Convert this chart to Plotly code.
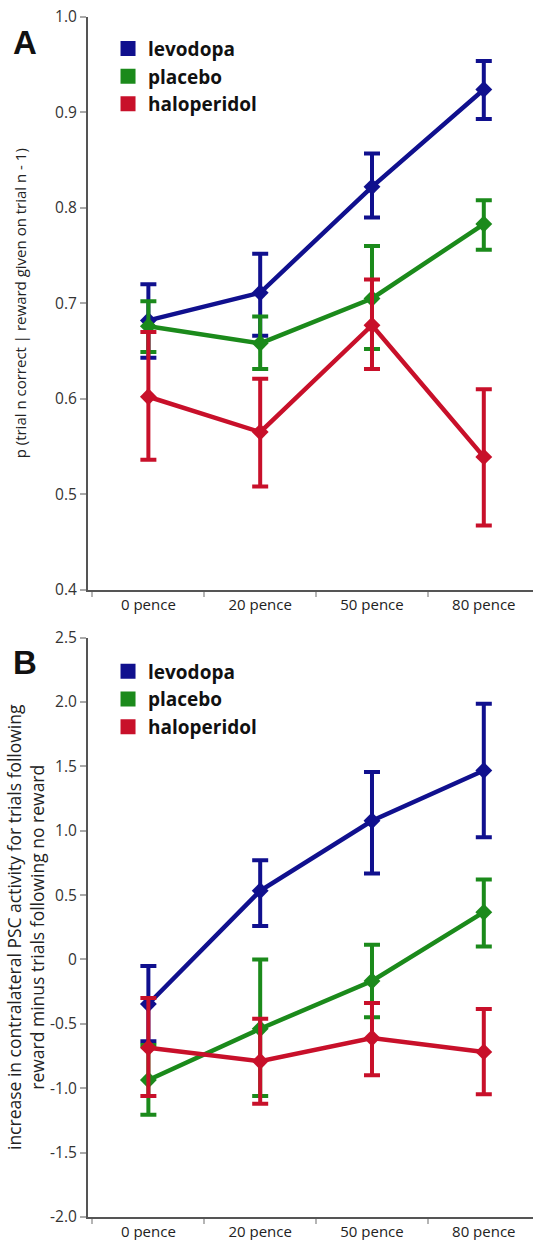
import plotly.graph_objects as go

categories = ["0 pence", "20 pence", "50 pence", "80 pence"]
series_names = ["levodopa", "placebo", "haloperidol"]
colors = ["#10108E", "#1B8A1B", "#C8102A"]

# Panel A: p(trial n correct | reward given on trial n-1)
a_levodopa = [0.682, 0.711, 0.822, 0.924]
a_levodopa_hi = [0.720, 0.752, 0.857, 0.954]
a_levodopa_lo = [0.643, 0.666, 0.790, 0.893]
a_placebo = [0.676, 0.658, 0.705, 0.783]
a_placebo_hi = [0.702, 0.686, 0.760, 0.808]
a_placebo_lo = [0.649, 0.631, 0.652, 0.756]
a_haloperidol = [0.602, 0.565, 0.677, 0.539]
a_haloperidol_hi = [0.670, 0.621, 0.725, 0.610]
a_haloperidol_lo = [0.536, 0.508, 0.631, 0.467]

# Panel B: increase in contralateral PSC activity
b_levodopa = [-0.346, 0.533, 1.077, 1.467]
b_levodopa_hi = [-0.05, 0.77, 1.456, 1.985]
b_levodopa_lo = [-0.636, 0.26, 0.667, 0.949]
b_placebo = [-0.936, -0.538, -0.167, 0.367]
b_placebo_hi = [-0.665, 0.0, 0.115, 0.62]
b_placebo_lo = [-1.205, -1.06, -0.449, 0.10]
b_haloperidol = [-0.685, -0.79, -0.61, -0.718]
b_haloperidol_hi = [-0.30, -0.46, -0.338, -0.385]
b_haloperidol_lo = [-1.06, -1.12, -0.90, -1.046]

a_ticks = [0.4, 0.5, 0.6, 0.7, 0.8, 0.9, 1.0]
a_ticktext = ["0.4", "0.5", "0.6", "0.7", "0.8", "0.9", "1.0"]
b_ticks = [-2.0, -1.5, -1.0, -0.5, 0, 0.5, 1.0, 1.5, 2.0, 2.5]
b_ticktext = ["-2.0", "-1.5", "-1.0", "-0.5", "0", "0.5", "1.0", "1.5", "2.0", "2.5"]

a_title = "p (trial n correct | reward given on trial n - 1)"
b_title = "increase in contralateral PSC activity for trials following<br>reward minus trials following no reward"

FONT = "Open Sans"
fig = go.Figure()

panels = [
    ("x", "y", "legend",
     [(a_levodopa, a_levodopa_hi, a_levodopa_lo),
      (a_placebo, a_placebo_hi, a_placebo_lo),
      (a_haloperidol, a_haloperidol_hi, a_haloperidol_lo)]),
    ("x2", "y2", "legend2",
     [(b_levodopa, b_levodopa_hi, b_levodopa_lo),
      (b_placebo, b_placebo_hi, b_placebo_lo),
      (b_haloperidol, b_haloperidol_hi, b_haloperidol_lo)]),
]

for xa, ya, leg, data in panels:
    for name, color, (vals, hi, lo) in zip(series_names, colors, data):
        fig.add_trace(go.Scatter(
            x=categories, y=vals, xaxis=xa, yaxis=ya,
            mode="lines+markers", showlegend=False,
            line=dict(color=color, width=4.5),
            marker=dict(symbol="diamond", size=13, color=color),
            error_y=dict(type="data", symmetric=False,
                         array=[h - v for h, v in zip(hi, vals)],
                         arrayminus=[v - l for v, l in zip(vals, lo)],
                         color=color, thickness=4, width=8),
        ))
    for name, color in zip(series_names, colors):
        fig.add_trace(go.Scatter(
            x=[None], y=[None], xaxis=xa, yaxis=ya, mode="markers",
            name=name, legend=leg,
            marker=dict(symbol="square", size=15, color=color),
        ))

xcommon = dict(type="category", categoryorder="array", categoryarray=categories,
               range=[-0.54, 3.44], tickson="boundaries", ticks="outside",
               ticklen=5, tickwidth=1.5, tickcolor="#b5b5b5",
               showline=True, linecolor="#555555", linewidth=2,
               showgrid=False, zeroline=False, automargin=False,
               tickfont=dict(family=FONT, size=15, color="#222222"))
ycommon = dict(ticks="outside", ticklen=6, tickwidth=1.5, tickcolor="#aaaaaa",
               showline=True, linecolor="#555555", linewidth=2,
               showgrid=False, zeroline=False, automargin=False,
               tickfont=dict(family=FONT, size=15.5, color="#333333"))

legend_common = dict(font=dict(family=FONT, size=19, color="#111111", weight=700),
                     bgcolor="rgba(0,0,0,0)", itemwidth=30, tracegroupgap=0,
                     xanchor="left", yanchor="top")

fig.update_layout(
    width=533, height=1240,
    margin=dict(l=88, r=0, t=17, b=23, autoexpand=False),
    plot_bgcolor="white", paper_bgcolor="white",
    xaxis=dict(domain=[0, 1], anchor="y", **xcommon),
    yaxis=dict(domain=[0.5229, 1], anchor="x", range=[0.4, 1.0],
               tickvals=a_ticks, ticktext=a_ticktext,
               title=dict(text=a_title, font=dict(family=FONT, size=15, color="#222222"), standoff=25),
               **ycommon),
    xaxis2=dict(domain=[0, 1], anchor="y2", **xcommon),
    yaxis2=dict(domain=[0, 0.4829], anchor="x2", range=[-2.0, 2.5],
                tickvals=b_ticks, ticktext=b_ticktext,
                title=dict(text=b_title, font=dict(family=FONT, size=17.5, color="#222222"), standoff=1),
                **ycommon),
    legend=dict(x=0.045, y=0.9895, **legend_common),
    legend2=dict(x=0.045, y=0.4705, **legend_common),
    annotations=[
        dict(text="<b>A</b>", xref="paper", yref="paper", x=-0.172, y=0.979,
             xanchor="left", yanchor="middle", showarrow=False,
             font=dict(family="Liberation Sans", size=33, color="#111111")),
        dict(text="<b>B</b>", xref="paper", yref="paper", x=-0.172, y=0.462,
             xanchor="left", yanchor="middle", showarrow=False,
             font=dict(family="Liberation Sans", size=33, color="#111111")),
    ],
)

fig.write_html("out.html", config={"displayModeBar": False},
               post_script="document.body.style.margin='0';document.body.style.overflow='hidden';")
